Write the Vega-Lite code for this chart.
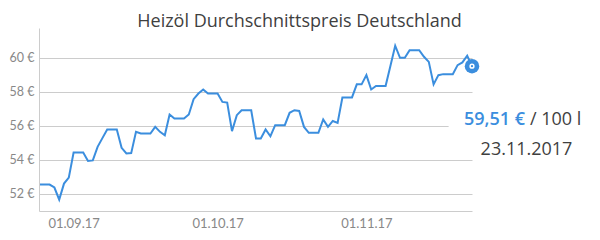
{
  "$schema": "https://vega.github.io/schema/vega-lite/v6.json",
  "width": 433,
  "height": 183,
  "autosize": {"type": "none"},
  "padding": {"left": 39, "top": 28, "right": 128, "bottom": 29},
  "background": "white",
  "title": {
    "text": "Heizöl Durchschnittspreis Deutschland",
    "font": "Open Sans",
    "fontSize": 18,
    "fontWeight": "normal",
    "color": "#3f3f3f",
    "offset": -3,
    "dx": 44
  },
  "config": {
    "view": {"stroke": null},
    "font": "Open Sans"
  },
  "data": {
    "values": [
      {"date": "2017-08-25", "price": 52.55},
      {"date": "2017-08-26", "price": 52.55},
      {"date": "2017-08-27", "price": 52.55},
      {"date": "2017-08-28", "price": 52.38},
      {"date": "2017-08-29", "price": 51.67},
      {"date": "2017-08-30", "price": 52.61},
      {"date": "2017-08-31", "price": 52.96},
      {"date": "2017-09-01", "price": 54.43},
      {"date": "2017-09-02", "price": 54.43},
      {"date": "2017-09-03", "price": 54.43},
      {"date": "2017-09-04", "price": 53.94},
      {"date": "2017-09-05", "price": 53.97},
      {"date": "2017-09-06", "price": 54.77},
      {"date": "2017-09-07", "price": 55.28},
      {"date": "2017-09-08", "price": 55.79},
      {"date": "2017-09-09", "price": 55.79},
      {"date": "2017-09-10", "price": 55.79},
      {"date": "2017-09-11", "price": 54.71},
      {"date": "2017-09-12", "price": 54.38},
      {"date": "2017-09-13", "price": 54.40},
      {"date": "2017-09-14", "price": 55.65},
      {"date": "2017-09-15", "price": 55.55},
      {"date": "2017-09-16", "price": 55.55},
      {"date": "2017-09-17", "price": 55.55},
      {"date": "2017-09-18", "price": 55.94},
      {"date": "2017-09-19", "price": 55.65},
      {"date": "2017-09-20", "price": 55.45},
      {"date": "2017-09-21", "price": 56.67},
      {"date": "2017-09-22", "price": 56.43},
      {"date": "2017-09-23", "price": 56.43},
      {"date": "2017-09-24", "price": 56.43},
      {"date": "2017-09-25", "price": 56.67},
      {"date": "2017-09-26", "price": 57.57},
      {"date": "2017-09-27", "price": 57.90},
      {"date": "2017-09-28", "price": 58.14},
      {"date": "2017-09-29", "price": 57.90},
      {"date": "2017-09-30", "price": 57.90},
      {"date": "2017-10-01", "price": 57.90},
      {"date": "2017-10-02", "price": 57.41},
      {"date": "2017-10-03", "price": 57.37},
      {"date": "2017-10-04", "price": 55.69},
      {"date": "2017-10-05", "price": 56.63},
      {"date": "2017-10-06", "price": 56.92},
      {"date": "2017-10-07", "price": 56.92},
      {"date": "2017-10-08", "price": 56.92},
      {"date": "2017-10-09", "price": 55.26},
      {"date": "2017-10-10", "price": 55.26},
      {"date": "2017-10-11", "price": 55.79},
      {"date": "2017-10-12", "price": 55.39},
      {"date": "2017-10-13", "price": 56.04},
      {"date": "2017-10-14", "price": 56.04},
      {"date": "2017-10-15", "price": 56.04},
      {"date": "2017-10-16", "price": 56.77},
      {"date": "2017-10-17", "price": 56.92},
      {"date": "2017-10-18", "price": 56.88},
      {"date": "2017-10-19", "price": 55.94},
      {"date": "2017-10-20", "price": 55.59},
      {"date": "2017-10-21", "price": 55.59},
      {"date": "2017-10-22", "price": 55.59},
      {"date": "2017-10-23", "price": 56.38},
      {"date": "2017-10-24", "price": 55.94},
      {"date": "2017-10-25", "price": 56.29},
      {"date": "2017-10-26", "price": 56.18},
      {"date": "2017-10-27", "price": 57.67},
      {"date": "2017-10-28", "price": 57.67},
      {"date": "2017-10-29", "price": 57.67},
      {"date": "2017-10-30", "price": 58.44},
      {"date": "2017-10-31", "price": 58.44},
      {"date": "2017-11-01", "price": 58.98},
      {"date": "2017-11-02", "price": 58.14},
      {"date": "2017-11-03", "price": 58.34},
      {"date": "2017-11-04", "price": 58.34},
      {"date": "2017-11-05", "price": 58.34},
      {"date": "2017-11-06", "price": 59.52},
      {"date": "2017-11-07", "price": 60.71},
      {"date": "2017-11-08", "price": 60.00},
      {"date": "2017-11-09", "price": 60.00},
      {"date": "2017-11-10", "price": 60.45},
      {"date": "2017-11-11", "price": 60.45},
      {"date": "2017-11-12", "price": 60.45},
      {"date": "2017-11-13", "price": 60.06},
      {"date": "2017-11-14", "price": 59.76},
      {"date": "2017-11-15", "price": 58.44},
      {"date": "2017-11-16", "price": 58.98},
      {"date": "2017-11-17", "price": 59.04},
      {"date": "2017-11-18", "price": 59.04},
      {"date": "2017-11-19", "price": 59.04},
      {"date": "2017-11-20", "price": 59.57},
      {"date": "2017-11-21", "price": 59.73},
      {"date": "2017-11-22", "price": 60.12},
      {"date": "2017-11-23", "price": 59.51}
    ]
  },
  "encoding": {
    "x": {
      "field": "date",
      "type": "temporal",
      "scale": {
        "type": "utc",
        "domain": [
          {"year": 2017, "month": 8, "date": 24, "hours": 19, "utc": true},
          {"year": 2017, "month": 11, "date": 23, "utc": true}
        ]
      },
      "axis": {
        "title": null,
        "format": "%d.%m.%y",
        "values": [
          {"year": 2017, "month": 9, "date": 1, "utc": true},
          {"year": 2017, "month": 10, "date": 1, "utc": true},
          {"year": 2017, "month": 11, "date": 1, "utc": true}
        ],
        "grid": false,
        "ticks": false,
        "domainColor": "#cccccc",
        "labelColor": "#888888",
        "labelFont": "Lato",
        "labelFontSize": 13,
        "labelPadding": 6
      }
    },
    "y": {
      "field": "price",
      "type": "quantitative",
      "scale": {"domain": [51, 61.75], "nice": false, "zero": false},
      "axis": {
        "title": null,
        "values": [52, 54, 56, 58, 60],
        "labelExpr": "datum.value + ' €'",
        "grid": true,
        "gridColor": "#cccccc",
        "ticks": false,
        "domainColor": "#cccccc",
        "labelColor": "#888888",
        "labelFont": "Lato",
        "labelFontSize": 12.5,
        "labelPadding": 5
      }
    }
  },
  "layer": [
    {
      "mark": {"type": "line", "color": "#3b8ede", "strokeWidth": 2, "interpolate": "linear"}
    },
    {
      "transform": [{"filter": "time(datum.date) == utc(2017, 10, 23)"}],
      "mark": {"type": "rect", "color": "white"},
      "encoding": {
        "x": {"datum": {"year": 2017, "month": 11, "date": 18, "hours": 3, "utc": true}, "type": "temporal"},
        "x2": {"datum": {"year": 2017, "month": 11, "date": 23, "hours": 12, "utc": true}},
        "y": {"datum": 55.9},
        "y2": {"datum": 56.1}
      }
    },
    {
      "transform": [{"filter": "time(datum.date) == utc(2017, 10, 23)"}],
      "mark": {"type": "point", "filled": true, "color": "#3b8ede", "size": 210, "opacity": 1}
    },
    {
      "transform": [{"filter": "time(datum.date) == utc(2017, 10, 23)"}],
      "mark": {"type": "point", "filled": false, "color": "white", "size": 14, "strokeWidth": 1.5, "opacity": 1}
    },
    {
      "transform": [{"filter": "time(datum.date) == utc(2017, 10, 23)"}],
      "mark": {"type": "text", "text": "59,51 €", "align": "right", "baseline": "alphabetic", "dx": 53, "font": "Open Sans", "fontSize": 18, "fontWeight": 600, "color": "#3b8ede"},
      "encoding": {
        "y": {"datum": 56.05}
      }
    },
    {
      "transform": [{"filter": "time(datum.date) == utc(2017, 10, 23)"}],
      "mark": {"type": "text", "text": "/ 100 l", "align": "left", "baseline": "alphabetic", "dx": 58, "font": "Open Sans", "fontSize": 18, "fontWeight": "normal", "color": "#3f3f3f"},
      "encoding": {
        "y": {"datum": 56.05}
      }
    },
    {
      "transform": [{"filter": "time(datum.date) == utc(2017, 10, 23)"}],
      "mark": {"type": "text", "text": "23.11.2017", "align": "center", "baseline": "alphabetic", "dx": 54.5, "dy": 30, "font": "Open Sans", "fontSize": 18, "fontWeight": "normal", "color": "#3f3f3f"},
      "encoding": {
        "y": {"datum": 56.05}
      }
    }
  ]
}
